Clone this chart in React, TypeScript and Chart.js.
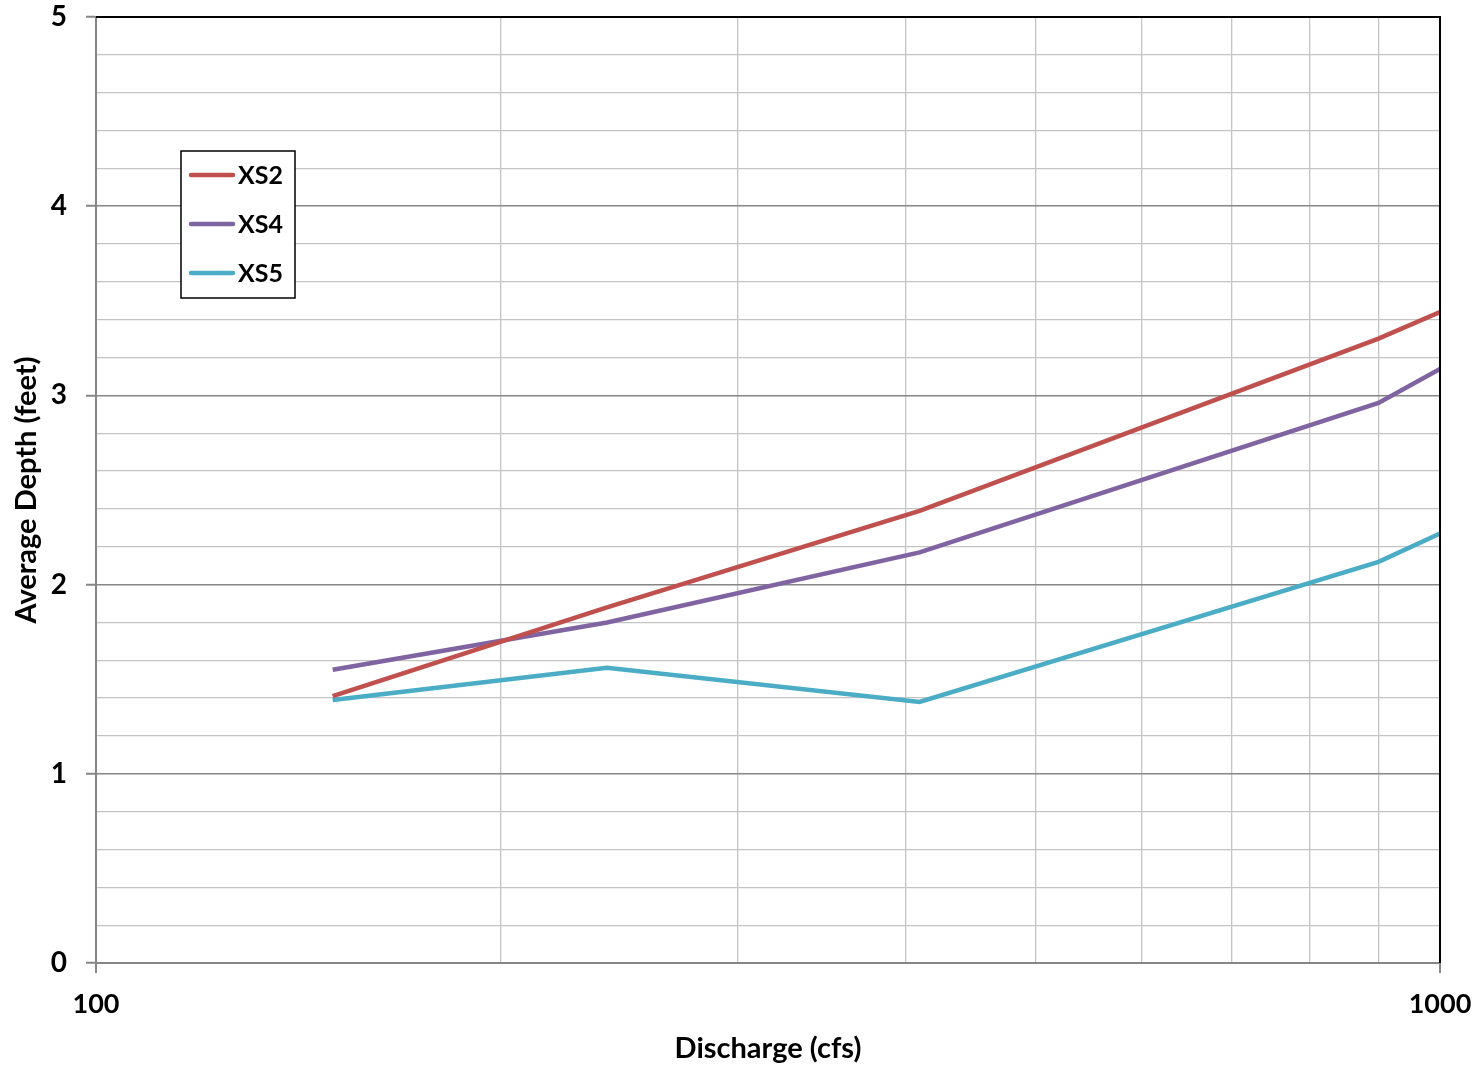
import React, { useEffect, useRef } from 'react';
import { Chart, registerables } from 'chart.js';

Chart.register(...registerables);

// ---- data ----
const discharge = [150, 240, 410, 900, 1000];
const xs2 = [1.41, 1.88, 2.39, 3.3, 3.44];
const xs4 = [1.55, 1.8, 2.17, 2.96, 3.14];
const xs5 = [1.39, 1.56, 1.38, 2.12, 2.27];
const seriesNames = ['XS2', 'XS4', 'XS5'];
const seriesValues = [xs2, xs4, xs5];
const seriesColors = ['#C0504D', '#8064A2', '#4BACC6'];
const xGridTicks = [100, 200, 300, 400, 500, 600, 700, 800, 900, 1000];
const xLabeledTicks = [100, 1000];
const yMin = 0;
const yMax = 5;
const yStep = 0.2;

const FONT = 'Lato';
const isInt = (v: number) => Math.abs(v - Math.round(v)) < 1e-6;

const framePlugin = {
  id: 'frame',
  afterDatasetsDraw(chart: any) {
    const { ctx, chartArea } = chart;
    ctx.save();
    ctx.strokeStyle = '#000';
    ctx.lineWidth = 2;
    ctx.beginPath();
    ctx.moveTo(chartArea.left, chartArea.top);
    ctx.lineTo(chartArea.right, chartArea.top);
    ctx.lineTo(chartArea.right, chartArea.bottom);
    ctx.stroke();

    // legend box
    const bx = 181, by = 151, bw = 114, bh = 147;
    ctx.fillStyle = '#fff';
    ctx.fillRect(bx, by, bw, bh);
    ctx.lineWidth = 1.5;
    ctx.strokeStyle = '#000';
    ctx.strokeRect(bx, by, bw, bh);
    ctx.font = `bold 25px ${FONT}`;
    ctx.textBaseline = 'middle';
    ctx.textAlign = 'left';
    chart.data.datasets.forEach((ds: any, i: number) => {
      const y = by + 24 + i * 49;
      ctx.strokeStyle = ds.borderColor;
      ctx.lineWidth = 4.5;
      ctx.lineCap = 'round';
      ctx.beginPath();
      ctx.moveTo(bx + 10, y);
      ctx.lineTo(bx + 52, y);
      ctx.stroke();
      ctx.fillStyle = '#000';
      ctx.fillText(ds.label, bx + 57, y + 1);
    });
    ctx.restore();
  },
};

export default function App() {
  const ref = useRef<HTMLCanvasElement | null>(null);
  useEffect(() => {
    if (!ref.current) return;
    const chart = new Chart(ref.current, {
      type: 'line',
      data: {
        datasets: seriesNames.map((name, i) => ({
          label: name,
          data: discharge.map((x, j) => ({ x, y: seriesValues[i][j] })),
          borderColor: seriesColors[i],
          backgroundColor: seriesColors[i],
          borderWidth: 4.5,
          pointRadius: 0,
          tension: 0,
          fill: false,
        })),
      },
      options: {
        animation: false,
        responsive: false,
        layout: { padding: { top: 17, right: 41, left: 0, bottom: 0 } },
        plugins: { legend: { display: false }, tooltip: { enabled: false } },
        scales: {
          x: {
            type: 'logarithmic',
            min: 100,
            max: 1000,
            afterFit: (s: any) => {
              s.height = 105;
              s.paddingLeft = 0;
              s.paddingRight = 0;
            },
            afterBuildTicks: (s: any) => { s.ticks = xGridTicks.map((v) => ({ value: v })); },
            grid: {
              color: (c: any) => {
                const v = c.tick?.value;
                if (v === 100) return '#868686';
                if (v === 1000) return '#000';
                return '#c4c4c4';
              },
              lineWidth: (c: any) => (c.tick?.value === 100 || c.tick?.value === 1000 ? 2 : 1.3),
              tickColor: (c: any) => (xLabeledTicks.includes(c.tick?.value) ? '#868686' : 'rgba(0,0,0,0)'),
              tickLength: 10,
              tickWidth: 2,
            },
            border: { display: true, color: '#868686', width: 2 },
            ticks: {
              autoSkip: false,
              maxRotation: 0,
              padding: 15,
              color: '#000',
              font: { family: FONT, size: 27, weight: 'bold' },
              callback: (v: any) => (xLabeledTicks.includes(Number(v)) ? String(v) : ''),
            },
            title: {
              display: true,
              text: 'Discharge (cfs)',
              color: '#000',
              font: { family: FONT, size: 29, weight: 'bold' },
              padding: { top: 0, bottom: 2 },
            },
          },
          y: {
            type: 'linear',
            min: yMin,
            max: yMax,
            afterFit: (s: any) => {
              s.width = 96;
              s.paddingTop = 0;
              s.paddingBottom = 0;
            },
            grid: {
              color: (c: any) => (isInt(c.tick?.value ?? 0.5) ? '#868686' : '#c4c4c4'),
              lineWidth: (c: any) => (isInt(c.tick?.value ?? 0.5) ? 1.5 : 1.3),
              tickColor: (c: any) => (isInt(c.tick?.value ?? 0.5) ? '#868686' : 'rgba(0,0,0,0)'),
              tickLength: 10,
              tickWidth: 2,
            },
            border: { display: true, color: '#868686', width: 2 },
            ticks: {
              stepSize: yStep,
              maxTicksLimit: 1000,
              autoSkip: false,
              padding: 19,
              color: '#000',
              font: { family: FONT, size: 28, weight: 'bold' },
              callback: (v: any) => (isInt(Number(v)) ? String(Math.round(Number(v))) : ''),
            },
            title: {
              display: true,
              text: 'Average Depth (feet)',
              color: '#000',
              font: { family: FONT, size: 29, weight: 'bold' },
              padding: { top: 9, bottom: 0 },
            },
          },
        },
      },
      plugins: [framePlugin],
    } as any);
    return () => chart.destroy();
  }, []);
  return (
    <div style={{ position: 'absolute', left: 0, top: 0, width: 1481, height: 1068, background: '#fff' }}>
      <canvas ref={ref} width={1481} height={1068} />
    </div>
  );
}
